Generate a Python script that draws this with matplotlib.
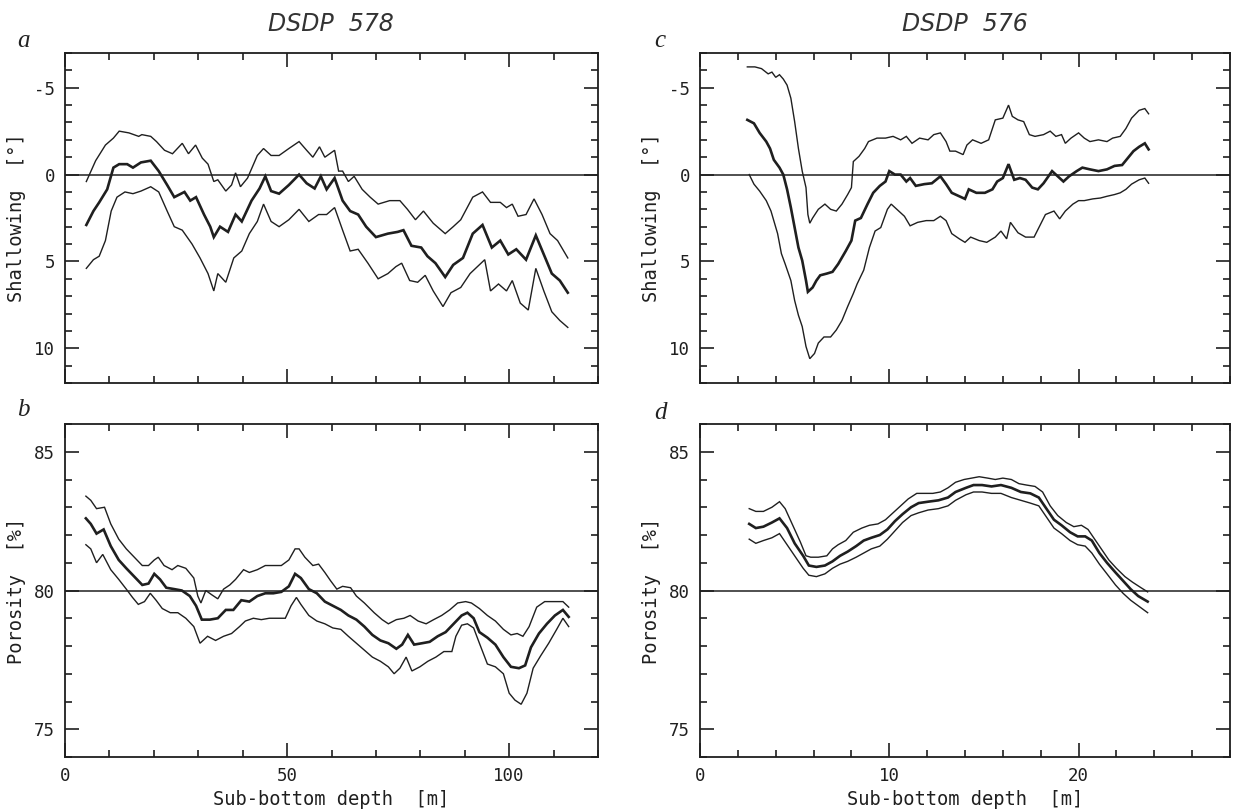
import matplotlib
matplotlib.use("Agg")
import matplotlib.pyplot as plt
from matplotlib.ticker import MultipleLocator

plt.rcParams["axes.unicode_minus"] = False

# ---- data (depth in m) ----
# a: DSDP 578, shallowing [deg]
a_up_x = [4.8, 6.9, 9.1, 10.9, 12.2, 14.4, 16.6, 17.3, 19.3, 20.6, 22.4, 24.2, 26.4, 27.8, 29.4, 30.9, 32.2, 33.5,
          34.4, 36.2, 37.5, 38.4, 39.5, 41.1, 43.3, 44.7, 46.4, 48.2, 50.4, 52.7, 54.4, 55.8, 57.3, 58.5, 60.7, 61.6,
          62.5, 63.8, 65.1, 66.9, 68.7, 70.5, 73.1, 75.4, 77.1, 78.9, 80.7, 82.9, 85.6, 87.4, 89.1, 91.8, 94.0, 95.8,
          98.0, 99.4, 100.7, 102.0, 103.8, 105.6, 107.4, 109.2, 110.9, 113.2]
a_up_y = [0.4, -0.8, -1.7, -2.1, -2.5, -2.4, -2.2, -2.3, -2.2, -1.9, -1.4, -1.2, -1.8, -1.2, -1.7, -0.95, -0.6, 0.4,
          0.3, 0.95, 0.6, -0.1, 0.7, 0.2, -1.1, -1.5, -1.1, -1.1, -1.5, -1.9, -1.4, -1.0, -1.6, -1.0, -1.4, -0.2,
          -0.2, 0.4, 0.1, 0.85, 1.3, 1.7, 1.5, 1.5, 2.0, 2.6, 2.1, 2.8, 3.4, 3.0, 2.6, 1.3, 1.0, 1.6,
          1.6, 1.9, 1.7, 2.4, 2.3, 1.4, 2.3, 3.4, 3.8, 4.8]
a_mid_x = [4.8, 6.4, 7.7, 9.5, 10.9, 12.2, 14.0, 15.3, 17.1, 19.3, 21.1, 23.0, 24.6, 26.9, 28.2, 29.5, 31.3, 32.7,
           33.5, 34.9, 36.7, 38.4, 39.8, 42.0, 43.8, 45.1, 46.4, 48.2, 50.4, 52.7, 54.4, 56.2, 57.6, 58.9, 60.7,
           62.5, 64.2, 66.0, 67.8, 70.0, 72.7, 74.9, 76.2, 78.0, 80.2, 81.6, 83.4, 85.6, 87.4, 89.6, 91.8, 94.0,
           96.1, 98.0, 99.8, 101.6, 103.8, 106.0, 107.8, 109.6, 111.4, 113.2]
a_mid_y = [2.9, 2.1, 1.6, 0.85, -0.4, -0.6, -0.6, -0.4, -0.7, -0.8, -0.2, 0.6, 1.3, 1.0, 1.5, 1.3, 2.3, 3.0,
           3.6, 3.0, 3.3, 2.3, 2.7, 1.5, 0.8, 0.1, 0.95, 1.1, 0.6, 0.0, 0.5, 0.8, 0.1, 0.85, 0.2,
           1.5, 2.1, 2.3, 3.0, 3.6, 3.4, 3.3, 3.2, 4.1, 4.2, 4.7, 5.1, 5.9, 5.2, 4.8, 3.4, 2.9,
           4.2, 3.8, 4.6, 4.3, 4.9, 3.5, 4.6, 5.7, 6.1, 6.8]
a_lo_x = [4.8, 6.4, 7.7, 9.1, 10.4, 11.7, 13.5, 15.3, 17.1, 19.3, 21.1, 23.0, 24.6, 26.4, 28.6, 30.4, 32.2, 33.5,
          34.4, 36.2, 38.0, 39.8, 41.5, 43.3, 44.7, 46.4, 48.2, 50.4, 52.7, 54.9, 57.1, 58.9, 60.7, 62.5, 64.2,
          66.0, 68.2, 70.5, 72.7, 74.5, 75.8, 77.6, 79.4, 81.1, 82.9, 85.1, 86.9, 89.1, 91.2, 94.5, 95.8, 97.6,
          99.4, 100.7, 102.5, 104.3, 106.0, 107.8, 109.6, 111.4, 113.2]
a_lo_y = [5.4, 4.9, 4.7, 3.8, 2.1, 1.3, 1.0, 1.1, 0.95, 0.7, 1.0, 2.1, 3.0, 3.2, 4.0, 4.8, 5.7, 6.7,
          5.7, 6.2, 4.8, 4.4, 3.4, 2.7, 1.7, 2.7, 3.0, 2.6, 2.0, 2.7, 2.3, 2.3, 1.9, 3.2, 4.4,
          4.3, 5.1, 6.0, 5.7, 5.3, 5.1, 6.1, 6.2, 5.8, 6.7, 7.6, 6.8, 6.5, 5.7, 4.9, 6.7, 6.3,
          6.7, 6.1, 7.4, 7.8, 5.4, 6.7, 7.9, 8.4, 8.8]

# b: DSDP 578, porosity [%]
b_up_x = [4.7, 5.8, 7.1, 8.9, 10.3, 12.1, 13.8, 15.6, 17.4, 18.8, 20.1, 21.0, 22.3, 24.1, 25.4, 27.2, 29.0, 29.9,
          30.6, 31.7, 33.0, 34.4, 35.7, 37.1, 38.4, 40.2, 41.5, 43.3, 45.1, 46.9, 48.7, 50.4, 51.8, 52.7, 54.0,
          55.8, 57.1, 58.5, 59.8, 61.2, 62.5, 64.3, 65.6, 67.4, 69.6, 71.4, 72.8, 74.6, 76.3, 77.7, 79.5, 81.3,
          83.0, 84.8, 86.6, 88.4, 90.2, 91.5, 93.3, 95.1, 96.9, 98.7, 100.4, 101.8, 103.1, 104.5, 106.2, 108.0,
          110.3, 112.1, 113.4]
b_up_y = [83.4, 83.25, 82.95, 83.0, 82.4, 81.85, 81.5, 81.2, 80.9, 80.9, 81.1, 81.2, 80.9, 80.75, 80.9, 80.8, 80.45, 79.8,
          79.55, 80.0, 79.85, 79.7, 80.05, 80.2, 80.4, 80.75, 80.65, 80.75, 80.9, 80.9, 80.9, 81.1, 81.5, 81.5, 81.2,
          80.9, 80.95, 80.65, 80.35, 80.05, 80.15, 80.1, 79.8, 79.55, 79.2, 78.95, 78.8, 78.95, 79.0, 79.1, 78.9, 78.8,
          78.95, 79.1, 79.3, 79.55, 79.6, 79.55, 79.35, 79.1, 78.9, 78.6, 78.4, 78.45, 78.35, 78.7, 79.4, 79.6,
          79.6, 79.6, 79.4]
b_mid_x = [4.7, 5.8, 7.1, 8.7, 10.3, 12.1, 13.8, 15.6, 17.4, 18.8, 20.1, 21.4, 22.8, 24.6, 26.3, 28.1, 29.5, 30.8,
           32.6, 34.4, 36.2, 37.9, 39.7, 41.5, 43.3, 45.1, 46.9, 48.7, 50.4, 51.8, 53.1, 54.9, 56.7, 58.5, 60.3,
           62.1, 63.8, 65.6, 67.4, 69.2, 71.0, 72.8, 74.6, 75.9, 77.2, 78.6, 80.4, 82.1, 83.9, 85.7, 87.5, 89.3,
           90.6, 92.0, 93.3, 95.1, 96.9, 98.7, 100.4, 102.2, 103.6, 104.9, 106.7, 108.5, 110.3, 112.1, 113.4]
b_mid_y = [82.6, 82.4, 82.05, 82.2, 81.6, 81.1, 80.8, 80.5, 80.2, 80.25, 80.6, 80.4, 80.1, 80.05, 80.0, 79.8, 79.45, 78.95,
           78.95, 79.0, 79.3, 79.3, 79.65, 79.6, 79.8, 79.9, 79.9, 79.95, 80.15, 80.6, 80.45, 80.05, 79.9, 79.6, 79.45,
           79.3, 79.1, 78.95, 78.7, 78.4, 78.2, 78.1, 77.9, 78.05, 78.4, 78.05, 78.1, 78.15, 78.35, 78.5, 78.8, 79.1,
           79.2, 79.0, 78.5, 78.3, 78.05, 77.6, 77.25, 77.2, 77.3, 77.95, 78.45, 78.8, 79.1, 79.3, 79.05]
b_lo_x = [4.7, 5.8, 7.1, 8.5, 10.3, 12.1, 13.8, 15.2, 16.5, 17.9, 19.2, 20.5, 21.9, 23.7, 25.4, 27.2, 29.0, 30.4,
          32.1, 33.9, 35.7, 37.5, 39.3, 40.6, 42.4, 44.2, 46.0, 47.8, 49.6, 50.9, 52.1, 53.1, 54.9, 56.7, 58.5,
          60.3, 62.1, 63.8, 65.6, 67.4, 69.2, 71.0, 72.8, 74.1, 75.4, 76.8, 78.1, 79.9, 81.7, 83.5, 85.3, 87.1,
          88.0, 89.3, 90.6, 92.0, 93.3, 95.1, 96.9, 98.7, 100.0, 101.3, 102.7, 104.0, 105.4, 107.1, 108.9, 110.7,
          112.1, 113.4]
b_lo_y = [81.65, 81.5, 81.0, 81.3, 80.75, 80.4, 80.05, 79.75, 79.5, 79.6, 79.9, 79.65, 79.35, 79.2, 79.2, 79.0, 78.7, 78.1,
          78.35, 78.2, 78.35, 78.45, 78.7, 78.9, 79.0, 78.95, 79.0, 79.0, 79.0, 79.45, 79.75, 79.5, 79.1, 78.9, 78.8,
          78.65, 78.6, 78.35, 78.1, 77.85, 77.6, 77.45, 77.25, 77.0, 77.2, 77.6, 77.1, 77.25, 77.45, 77.6, 77.8, 77.8,
          78.35, 78.75, 78.8, 78.65, 78.1, 77.35, 77.25, 77.0, 76.3, 76.05, 75.9, 76.3, 77.2, 77.65, 78.1, 78.6,
          79.0, 78.7]

# c: DSDP 576, shallowing [deg]
c_up_x = [2.5, 2.9, 3.25, 3.6, 3.8, 4.0, 4.2, 4.4, 4.6, 4.8, 5.0, 5.2, 5.4, 5.6, 5.7, 5.8, 5.95, 6.25, 6.6, 6.9,
          7.2, 7.5, 7.8, 8.0, 8.1, 8.4, 8.7, 8.9, 9.35, 9.8, 10.2, 10.6, 10.9, 11.2, 11.6, 12.05, 12.35, 12.7,
          13.0, 13.2, 13.5, 13.9, 14.1, 14.4, 14.85, 15.25, 15.6, 16.0, 16.3, 16.5, 16.8, 17.1, 17.4, 17.7,
          18.15, 18.5, 18.8, 19.1, 19.3, 19.6, 20.0, 20.3, 20.6, 21.05, 21.5, 21.8, 22.2, 22.5, 22.8, 23.2,
          23.5, 23.7]
c_up_y = [-6.2, -6.2, -6.1, -5.8, -5.9, -5.6, -5.75, -5.5, -5.15, -4.4, -3.05, -1.5, -0.2, 0.75, 2.3, 2.8, 2.5, 2.0, 1.7, 2.0,
          2.1, 1.7, 1.15, 0.75, -0.75, -1.05, -1.5, -1.9, -2.1, -2.1, -2.2, -2.0, -2.2, -1.8, -2.1, -2.0, -2.3, -2.4,
          -1.9, -1.35, -1.35, -1.15, -1.7, -2.0, -1.8, -2.0, -3.15, -3.25, -4.0, -3.35, -3.15, -3.05, -2.3, -2.2,
          -2.3, -2.5, -2.2, -2.3, -1.8, -2.1, -2.4, -2.1, -1.9, -2.0, -1.9, -2.1, -2.2, -2.65, -3.25, -3.7,
          -3.8, -3.5]
c_mid_x = [2.5, 2.85, 3.15, 3.5, 3.7, 3.9, 4.2, 4.4, 4.6, 4.8, 5.0, 5.2, 5.4, 5.6, 5.7, 5.95, 6.15, 6.35, 6.7, 7.0,
           7.3, 7.7, 8.0, 8.2, 8.5, 8.85, 9.15, 9.5, 9.8, 10.0, 10.3, 10.6, 10.9, 11.1, 11.4, 11.85, 12.25, 12.7,
           13.0, 13.3, 13.7, 14.0, 14.2, 14.6, 15.05, 15.45, 15.7, 16.0, 16.3, 16.6, 16.9, 17.2, 17.55, 17.85,
           18.15, 18.6, 18.9, 19.2, 19.5, 19.9, 20.2, 20.6, 21.05, 21.5, 21.9, 22.3, 22.6, 22.9, 23.2, 23.5, 23.7]
c_mid_y = [-3.15, -2.95, -2.4, -1.9, -1.5, -0.85, -0.4, 0.0, 0.85, 1.9, 3.05, 4.2, 4.95, 6.1, 6.75, 6.5, 6.1, 5.8, 5.7, 5.6,
           5.15, 4.4, 3.8, 2.65, 2.5, 1.7, 1.05, 0.65, 0.4, -0.2, 0.0, 0.0, 0.4, 0.2, 0.65, 0.55, 0.5, 0.1,
           0.55, 1.05, 1.25, 1.4, 0.85, 1.05, 1.05, 0.85, 0.4, 0.2, -0.6, 0.3, 0.2, 0.3, 0.75, 0.85,
           0.5, -0.2, 0.1, 0.4, 0.1, -0.2, -0.4, -0.3, -0.2, -0.3, -0.5, -0.55, -0.95, -1.35, -1.6, -1.8, -1.45]
c_lo_x = [2.6, 2.85, 3.15, 3.5, 3.75, 4.1, 4.3, 4.5, 4.8, 5.0, 5.2, 5.4, 5.6, 5.8, 6.05, 6.25, 6.55, 6.9, 7.2, 7.5,
          7.8, 8.1, 8.3, 8.65, 8.95, 9.25, 9.55, 9.9, 10.1, 10.4, 10.8, 11.1, 11.5, 11.95, 12.35, 12.7, 13.0,
          13.3, 13.7, 14.0, 14.3, 14.75, 15.15, 15.6, 15.9, 16.2, 16.4, 16.8, 17.2, 17.65, 17.95, 18.25, 18.7,
          19.0, 19.3, 19.7, 20.0, 20.3, 20.75, 21.15, 21.5, 21.9, 22.2, 22.5, 22.8, 23.2, 23.5, 23.7]
c_lo_y = [0.0, 0.55, 0.95, 1.5, 2.1, 3.4, 4.55, 5.15, 6.1, 7.25, 8.1, 8.75, 9.9, 10.6, 10.3, 9.7, 9.35, 9.35, 8.95, 8.4,
          7.6, 6.85, 6.3, 5.5, 4.2, 3.25, 3.05, 2.0, 1.7, 2.0, 2.4, 2.95, 2.75, 2.65, 2.65, 2.4, 2.65,
          3.4, 3.7, 3.9, 3.6, 3.8, 3.9, 3.6, 3.25, 3.7, 2.75, 3.35, 3.6, 3.6, 2.95, 2.3, 2.1,
          2.55, 2.1, 1.7, 1.5, 1.5, 1.4, 1.35, 1.25, 1.15, 1.05, 0.85, 0.55, 0.3, 0.2, 0.5]

# d: DSDP 576, porosity [%]
d_up_x = [2.6, 2.95, 3.35, 3.8, 4.2, 4.5, 4.9, 5.3, 5.6, 5.85, 6.25, 6.7, 7.0, 7.3, 7.7, 8.1, 8.55, 8.95, 9.4, 9.8,
          10.2, 10.6, 11.0, 11.45, 11.85, 12.3, 12.7, 13.1, 13.5, 13.95, 14.35, 14.75, 15.2, 15.6, 16.0, 16.45,
          16.85, 17.25, 17.7, 18.1, 18.5, 18.9, 19.35, 19.75, 20.15, 20.5, 20.8, 21.2, 21.6, 22.0, 22.45, 22.85,
          23.3, 23.65]
d_up_y = [82.95, 82.85, 82.85, 83.0, 83.2, 82.95, 82.35, 81.75, 81.25, 81.2, 81.2, 81.25, 81.5, 81.65, 81.8, 82.1, 82.25,
          82.35, 82.4, 82.55, 82.8, 83.05, 83.3, 83.5, 83.5, 83.5, 83.55, 83.7, 83.9, 84.0, 84.05, 84.1, 84.05, 84.0,
          84.05, 84.0, 83.85, 83.8, 83.75, 83.55, 83.05, 82.7, 82.45, 82.3, 82.35, 82.2, 81.9, 81.5, 81.1, 80.8,
          80.5, 80.3, 80.1, 79.95]
d_x = [2.6, 2.95, 3.35, 3.8, 4.2, 4.6, 5.0, 5.45, 5.75, 6.15, 6.6, 7.0, 7.4, 7.8, 8.25, 8.65, 9.05, 9.5, 9.9, 10.3,
       10.7, 11.15, 11.55, 12.05, 12.6, 13.1, 13.5, 14.05, 14.45, 14.9, 15.4, 15.9, 16.45, 16.95, 17.45, 17.9,
       18.3, 18.7, 19.1, 19.55, 19.95, 20.35, 20.7, 21.1, 21.5, 21.95, 22.35, 22.75, 23.15, 23.65]
d_mid_y = [82.4, 82.25, 82.3, 82.45, 82.6, 82.25, 81.7, 81.25, 80.9, 80.85, 80.9, 81.05, 81.25, 81.4, 81.6, 81.8, 81.9,
           82.0, 82.2, 82.5, 82.75, 83.0, 83.15, 83.2, 83.25, 83.35, 83.55, 83.7, 83.8, 83.8, 83.75, 83.8, 83.7,
           83.55, 83.5, 83.35, 82.95, 82.55, 82.35, 82.1, 81.95, 81.95, 81.8, 81.35, 81.0, 80.65, 80.35, 80.05,
           79.8, 79.6]
d_lo_y = [81.85, 81.7, 81.8, 81.9, 82.05, 81.65, 81.25, 80.8, 80.55, 80.5, 80.6, 80.8, 80.95, 81.05, 81.2, 81.35, 81.5,
          81.6, 81.85, 82.15, 82.45, 82.7, 82.8, 82.9, 82.95, 83.05, 83.25, 83.45, 83.55, 83.55, 83.5, 83.5, 83.35,
          83.25, 83.15, 83.05, 82.65, 82.25, 82.05, 81.8, 81.65, 81.6, 81.35, 80.95, 80.6, 80.2, 79.9, 79.65,
          79.45, 79.2]

titles = ["DSDP  578", "DSDP  576"]
panel_letters = ["a", "b", "c", "d"]
ylabels = ["Shallowing  [°]", "Porosity  [%]"]
xlabel = "Sub-bottom depth  [m]"

W, H = 1235, 809
ink = "#1f1f1f"
mono = "DejaVu Sans Mono"

fig = plt.figure(figsize=(W / 100, H / 100), dpi=100)
fig.patch.set_facecolor("white")


def px_axes(l, t, r, b):
    return fig.add_axes([l / W, 1 - b / H, (r - l) / W, (b - t) / H])


ax_a = px_axes(65, 53, 598, 383)
ax_b = px_axes(65, 424, 598, 757)
ax_c = px_axes(700, 53, 1230, 383)
ax_d = px_axes(700, 424, 1230, 757)

panels = [
    (ax_a, [(a_up_x, a_up_y, 1.0), (a_mid_x, a_mid_y, 1.9), (a_lo_x, a_lo_y, 1.0)], 0),
    (ax_b, [(b_up_x, b_up_y, 1.0), (b_mid_x, b_mid_y, 1.9), (b_lo_x, b_lo_y, 1.0)], 80),
    (ax_c, [(c_up_x, c_up_y, 1.0), (c_mid_x, c_mid_y, 1.9), (c_lo_x, c_lo_y, 1.0)], 0),
    (ax_d, [(d_up_x, d_up_y, 1.0), (d_x, d_mid_y, 1.9), (d_x, d_lo_y, 1.0)], 80),
]

for ax, lines, ref in panels:
    ax.axhline(ref, color=ink, lw=1.1)
    for xs, ys, lw in lines:
        ax.plot(xs, ys, color=ink, lw=lw, solid_joinstyle="miter")
    for s in ax.spines.values():
        s.set_linewidth(1.3)
        s.set_color(ink)
    ax.tick_params(which="both", direction="in", top=True, right=True,
                   color=ink, labelcolor=ink, width=1.2)
    ax.tick_params(which="major", length=10, pad=7, labelsize=12.5)
    ax.tick_params(which="minor", length=5)

# shallowing panels
for ax in (ax_a, ax_c):
    ax.set_ylim(12, -7)
    ax.yaxis.set_major_locator(MultipleLocator(5))
    ax.yaxis.set_minor_locator(MultipleLocator(1))
    ax.set_ylabel(ylabels[0], family=mono, fontsize=13.5, color=ink, labelpad=6)
    ax.tick_params(labelbottom=False)

# porosity panels
for ax in (ax_b, ax_d):
    ax.set_ylim(74, 86)
    ax.yaxis.set_major_locator(MultipleLocator(5))
    ax.yaxis.set_minor_locator(MultipleLocator(1))
    ax.set_ylabel(ylabels[1], family=mono, fontsize=13.5, color=ink, labelpad=6)
    ax.set_xlabel(xlabel, family=mono, fontsize=13.5, color=ink, labelpad=4)

for ax in (ax_a, ax_b):
    ax.set_xlim(0, 120)
    ax.xaxis.set_major_locator(MultipleLocator(50))
    ax.xaxis.set_minor_locator(MultipleLocator(10))
for ax in (ax_c, ax_d):
    ax.set_xlim(0, 28)
    ax.xaxis.set_major_locator(MultipleLocator(10))
    ax.xaxis.set_minor_locator(MultipleLocator(2))

for ax in (ax_a, ax_b, ax_c, ax_d):
    for lab in ax.get_xticklabels() + ax.get_yticklabels():
        lab.set_family(mono)

# titles over the columns
fig.text(331 / W, 1 - 24 / H, titles[0], ha="center", va="center", fontsize=17,
         style="italic", color="#333333")
fig.text(965 / W, 1 - 24 / H, titles[1], ha="center", va="center", fontsize=17,
         style="italic", color="#333333")

# panel letters
for (x, y), letter in zip([(23, 41), (23, 410), (660, 41), (660, 413)], panel_letters):
    fig.text(x / W, 1 - y / H, letter, ha="center", va="center", fontsize=18,
             family="Liberation Serif", style="italic", color="#222222")

fig.savefig("out.png", dpi=100, facecolor="white")
